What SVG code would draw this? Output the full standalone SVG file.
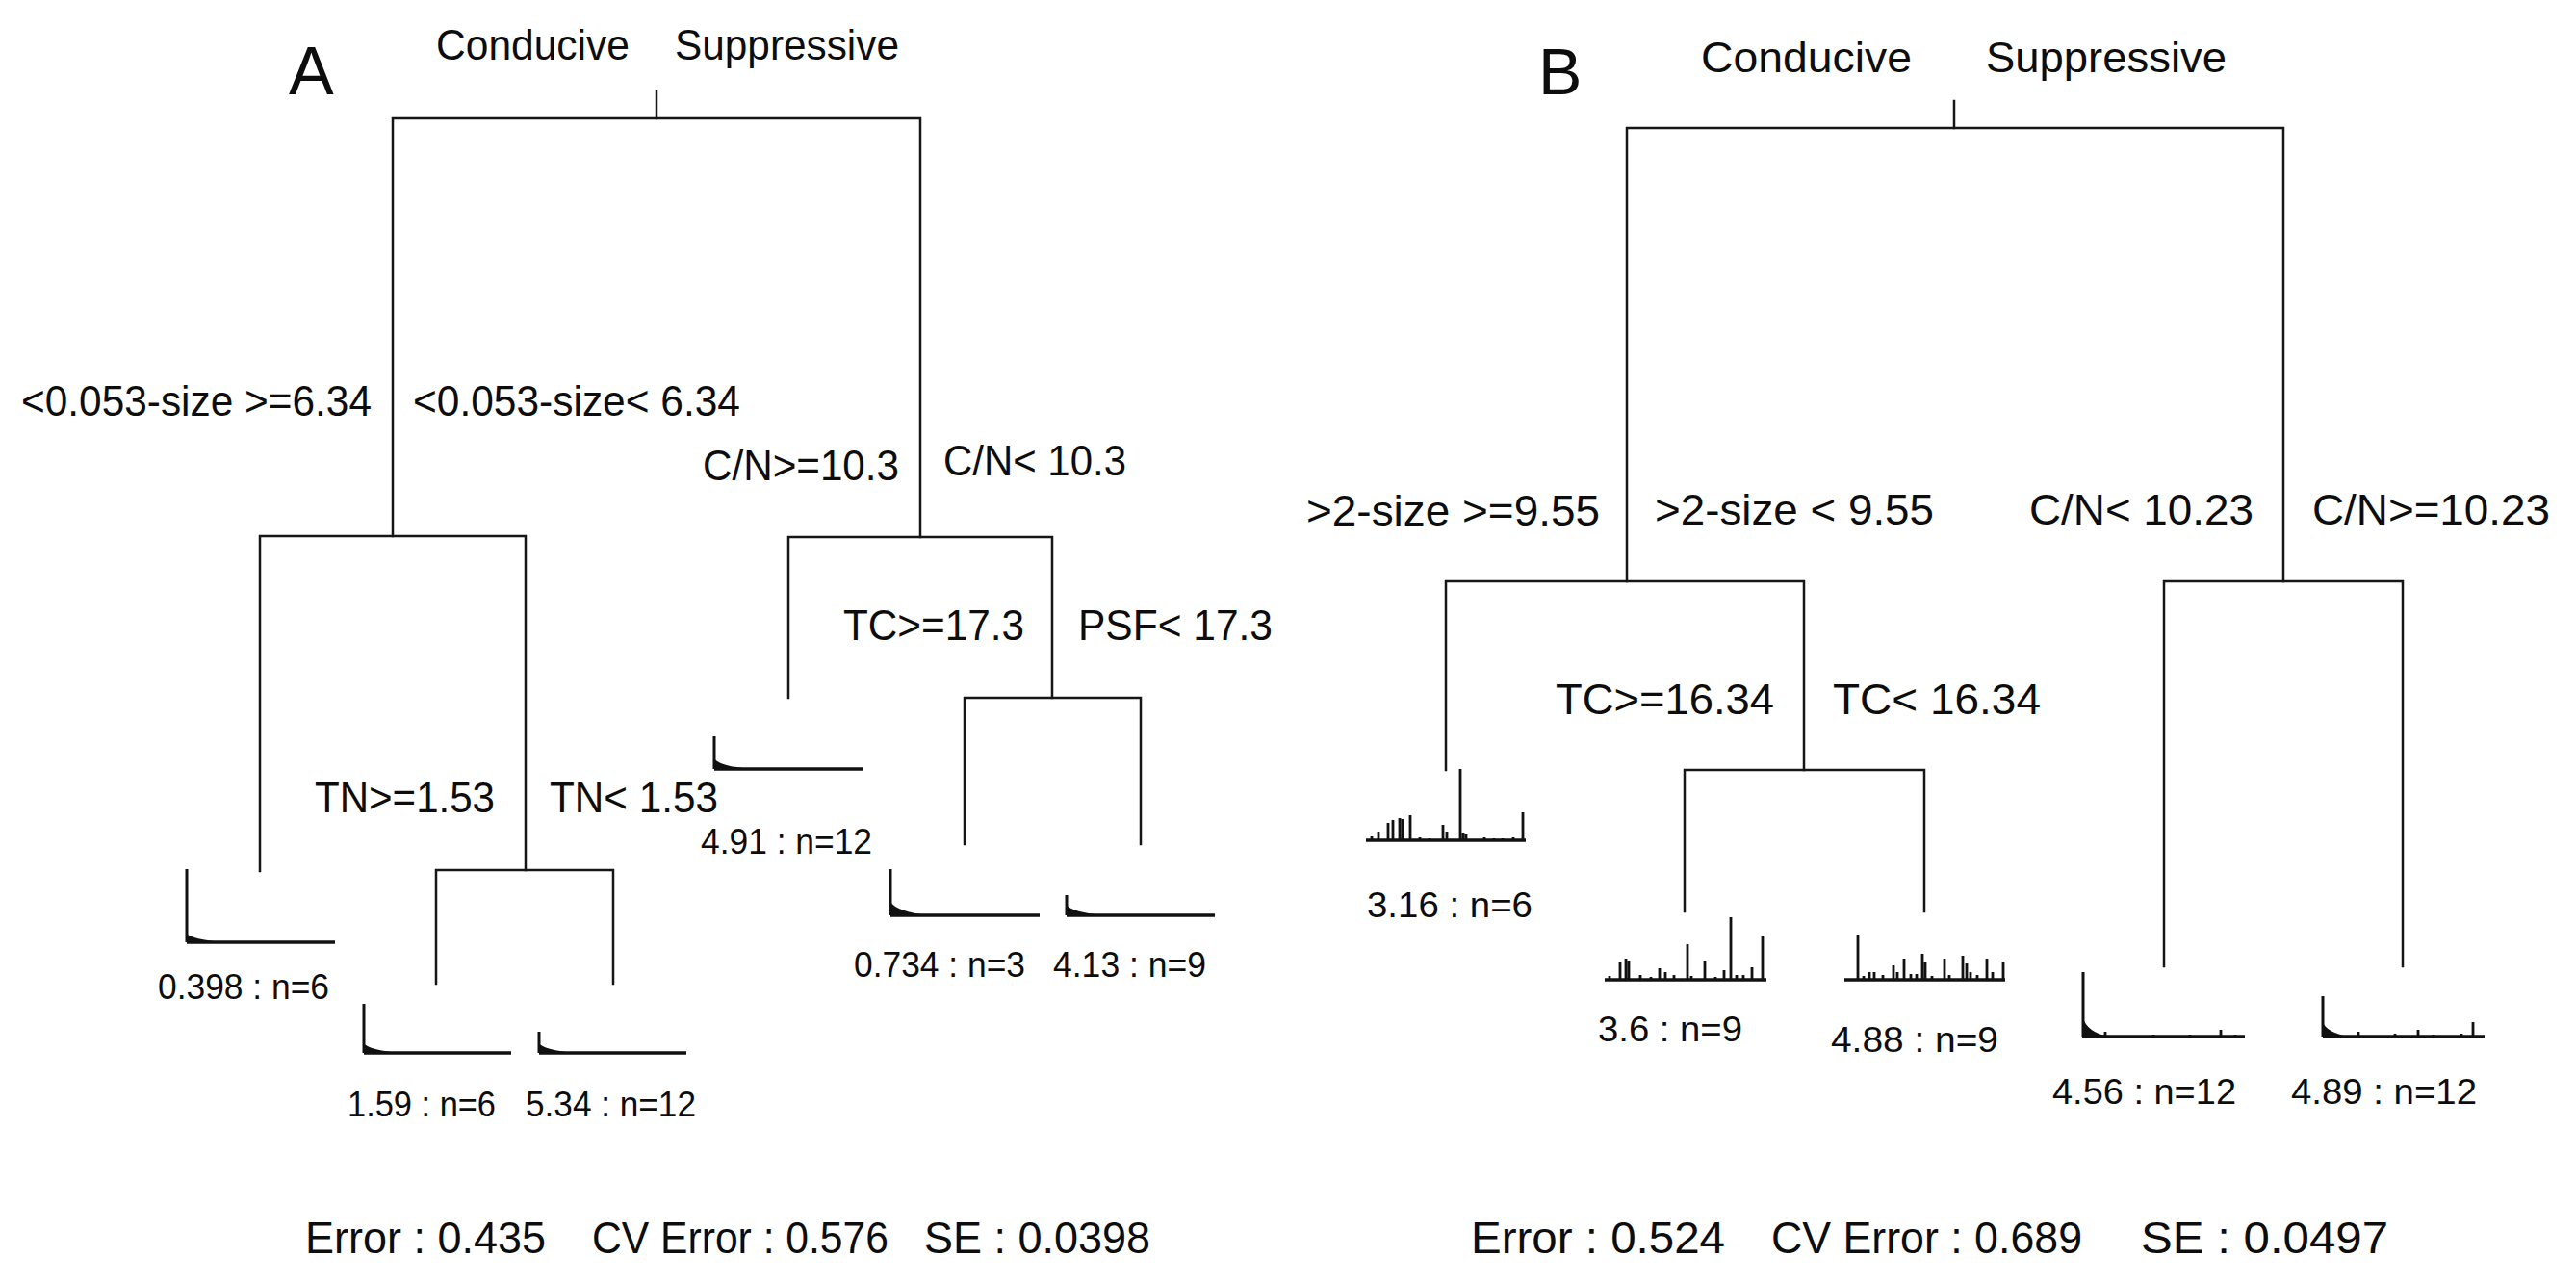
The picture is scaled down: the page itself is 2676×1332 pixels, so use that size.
<svg xmlns="http://www.w3.org/2000/svg" width="2676" height="1332" viewBox="0 0 2676 1332">
<style>
.bg{fill:#fff}
.ln{stroke:#161616;stroke-width:2.5;fill:none;stroke-linecap:square}
.t{font-family:"Liberation Sans",Arial,Helvetica,sans-serif;fill:#0d0d0d}
.big{font-size:70px}
.lbl{font-size:44px}
.leaf{font-size:37px}
.err{font-size:46px}
.hv{stroke:#111;stroke-width:3;fill:none}
.hb{stroke:#111;stroke-width:3.5;fill:none}
.hs{stroke:#111;stroke-width:2.8;fill:none}
.hf{fill:#111;stroke:none}
</style>
<rect class="bg" x="0" y="0" width="2676" height="1332"/>

<!-- ================= PANEL A ================= -->
<g id="panelA-title">
<text class="t big" x="300" y="98">A</text>
</g>
<g id="A-root">
<text class="t lbl" x="453" y="62" textLength="201" lengthAdjust="spacingAndGlyphs">Conducive</text>
<text class="t lbl" x="701" y="62" textLength="233" lengthAdjust="spacingAndGlyphs">Suppressive</text>
</g>

<g id="A-connectors">
<path class="ln" d="M682,95 V123"/>
<path class="ln" d="M408,557 V123 H956 V558"/>
<path class="ln" d="M270,905 V557 H546 V904"/>
<path class="ln" d="M453,1022 V904 H637 V1022"/>
<path class="ln" d="M819,725 V558 H1093 V725"/>
<path class="ln" d="M1002,877 V725 H1185 V877"/>
</g>

<g id="A-split-labels">
<text class="t lbl" x="22" y="432" textLength="364" lengthAdjust="spacingAndGlyphs">&lt;0.053-size &gt;=6.34</text>
<text class="t lbl" x="429" y="432" textLength="340" lengthAdjust="spacingAndGlyphs">&lt;0.053-size&lt; 6.34</text>
<text class="t lbl" x="730" y="499" textLength="204" lengthAdjust="spacingAndGlyphs">C/N&gt;=10.3</text>
<text class="t lbl" x="980" y="494" textLength="190" lengthAdjust="spacingAndGlyphs">C/N&lt; 10.3</text>
<text class="t lbl" x="327" y="844" textLength="187" lengthAdjust="spacingAndGlyphs">TN&gt;=1.53</text>
<text class="t lbl" x="571" y="844" textLength="175" lengthAdjust="spacingAndGlyphs">TN&lt; 1.53</text>
<text class="t lbl" x="876" y="665" textLength="188" lengthAdjust="spacingAndGlyphs">TC&gt;=17.3</text>
<text class="t lbl" x="1120" y="665" textLength="202" lengthAdjust="spacingAndGlyphs">PSF&lt; 17.3</text>
</g>

<g id="A-leaf-0398">
<path class="hf" d="M194,979 V970 Q199,976 232,979 Z"/>
<path class="hv" d="M194,903 V979"/>
<path class="hb" d="M194,979 H348"/>
<text class="t leaf" x="164" y="1038" textLength="178" lengthAdjust="spacingAndGlyphs">0.398 : n=6</text>
</g>
<g id="A-leaf-491">
<path class="hf" d="M742,799 V788 Q747,796 780,799 Z"/>
<path class="hv" d="M742,765 V799"/>
<path class="hb" d="M742,799 H896"/>
<text class="t leaf" x="728" y="887" textLength="178" lengthAdjust="spacingAndGlyphs">4.91 : n=12</text>
</g>
<g id="A-leaf-159">
<path class="hf" d="M378,1094 V1084 Q383,1091 416,1094 Z"/>
<path class="hv" d="M378,1043 V1094"/>
<path class="hb" d="M378,1094 H531"/>
<text class="t leaf" x="361" y="1160" textLength="154" lengthAdjust="spacingAndGlyphs">1.59 : n=6</text>
</g>
<g id="A-leaf-534">
<path class="hf" d="M560,1094 V1084 Q565,1091 598,1094 Z"/>
<path class="hv" d="M560,1072 V1094"/>
<path class="hb" d="M560,1094 H713"/>
<text class="t leaf" x="546" y="1160" textLength="177" lengthAdjust="spacingAndGlyphs">5.34 : n=12</text>
</g>
<g id="A-leaf-0734">
<path class="hf" d="M925,951 V937 Q931,947 965,951 Z"/>
<path class="hv" d="M925,903 V951"/>
<path class="hb" d="M925,951 H1080"/>
<text class="t leaf" x="887" y="1015" textLength="178" lengthAdjust="spacingAndGlyphs">0.734 : n=3</text>
</g>
<g id="A-leaf-413">
<path class="hf" d="M1108,951 V940 Q1113,948 1148,951 Z"/>
<path class="hv" d="M1108,930 V951"/>
<path class="hb" d="M1108,951 H1262"/>
<text class="t leaf" x="1094" y="1015" textLength="159" lengthAdjust="spacingAndGlyphs">4.13 : n=9</text>
</g>

<g id="A-error">
<text class="t err" x="317" y="1302" textLength="250" lengthAdjust="spacingAndGlyphs">Error : 0.435</text>
<text class="t err" x="615" y="1302" textLength="308" lengthAdjust="spacingAndGlyphs">CV Error : 0.576</text>
<text class="t err" x="960" y="1302" textLength="235" lengthAdjust="spacingAndGlyphs">SE : 0.0398</text>
</g>

<!-- ================= PANEL B ================= -->
<g id="panelB-title">
<text class="t big" x="1598" y="98" style="font-size:68px">B</text>
</g>
<g id="B-root">
<text class="t lbl" x="1767" y="75" textLength="219" lengthAdjust="spacingAndGlyphs">Conducive</text>
<text class="t lbl" x="2063" y="75" textLength="250" lengthAdjust="spacingAndGlyphs">Suppressive</text>
</g>

<g id="B-connectors">
<path class="ln" d="M2030,105 V133"/>
<path class="ln" d="M1690,604 V133 H2372 V604"/>
<path class="ln" d="M1502,800 V604 H1874 V800"/>
<path class="ln" d="M1750,947 V800 H1999 V947"/>
<path class="ln" d="M2248,1004 V604 H2496 V1004"/>
</g>

<g id="B-split-labels">
<text class="t lbl" x="1357" y="546" textLength="305" lengthAdjust="spacingAndGlyphs">&gt;2-size &gt;=9.55</text>
<text class="t lbl" x="1719" y="545" textLength="290" lengthAdjust="spacingAndGlyphs">&gt;2-size &lt; 9.55</text>
<text class="t lbl" x="2108" y="545" textLength="233" lengthAdjust="spacingAndGlyphs">C/N&lt; 10.23</text>
<text class="t lbl" x="2402" y="545" textLength="247" lengthAdjust="spacingAndGlyphs">C/N&gt;=10.23</text>
<text class="t lbl" x="1616" y="742" textLength="227" lengthAdjust="spacingAndGlyphs">TC&gt;=16.34</text>
<text class="t lbl" x="1904" y="742" textLength="216" lengthAdjust="spacingAndGlyphs">TC&lt; 16.34</text>
</g>

<g id="B-leaf-316">
<path class="hs" d="M1425,873 v-4 M1432,873 v-9 M1442,873 v-18 M1447,873 v-21 M1454,873 v-23 M1457,873 v-22 M1465,873 v-26 M1475,873 v-3 M1485,873 v-2 M1499,873 v-16 M1503,873 v-9 M1517,873 v-74 M1520,873 v-8 M1523,873 v-6 M1542,873 v-3 M1552,873 v-2 M1561,873 v-2 M1572,873 v-3 M1582,873 v-29"/>
<path class="hb" d="M1419,873 H1585"/>
<text class="t leaf" x="1420" y="953" textLength="172" lengthAdjust="spacingAndGlyphs">3.16 : n=6</text>
</g>
<g id="B-leaf-36">
<path class="hs" d="M1672,1018 v-4 M1683,1018 v-18 M1689,1018 v-22 M1692,1018 v-20 M1704,1018 v-5 M1715,1018 v-3 M1724,1018 v-12 M1730,1018 v-8 M1739,1018 v-5 M1753,1018 v-37 M1757,1018 v-4 M1771,1018 v-20 M1782,1018 v-3 M1791,1018 v-10 M1798,1018 v-65 M1804,1018 v-5 M1811,1018 v-5 M1820,1018 v-13 M1831,1018 v-45"/>
<path class="hb" d="M1667,1018 H1835"/>
<text class="t leaf" x="1660" y="1082" textLength="150" lengthAdjust="spacingAndGlyphs">3.6 : n=9</text>
</g>
<g id="B-leaf-488">
<path class="hs" d="M1930,1018 v-47 M1936,1018 v-4 M1942,1018 v-8 M1947,1018 v-8 M1956,1018 v-5 M1967,1018 v-15 M1971,1018 v-8 M1978,1018 v-22 M1985,1018 v-6 M1991,1018 v-6 M1997,1018 v-27 M2000,1018 v-18 M2007,1018 v-4 M2020,1018 v-22 M2025,1018 v-5 M2039,1018 v-25 M2043,1018 v-17 M2047,1018 v-8 M2054,1018 v-5 M2064,1018 v-22 M2070,1018 v-8 M2081,1018 v-19"/>
<path class="hb" d="M1916,1018 H2083"/>
<text class="t leaf" x="1902" y="1093" textLength="174" lengthAdjust="spacingAndGlyphs">4.88 : n=9</text>
</g>
<g id="B-leaf-456">
<path class="hf" d="M2164,1077 V1058 Q2168,1072 2190,1077 Z"/>
<path class="hv" d="M2164,1010 V1077"/>
<path class="hs" d="M2187,1077 v-5 M2237,1077 v-2 M2275,1077 v-2 M2307,1077 v-7 M2322,1077 v-2"/>
<path class="hb" d="M2163,1077 H2332"/>
<text class="t leaf" x="2132" y="1147" textLength="191" lengthAdjust="spacingAndGlyphs">4.56 : n=12</text>
</g>
<g id="B-leaf-489">
<path class="hf" d="M2413,1077 V1062 Q2417,1073 2440,1077 Z"/>
<path class="hv" d="M2413,1035 V1077"/>
<path class="hs" d="M2450,1077 v-5 M2488,1077 v-3 M2512,1077 v-7 M2528,1077 v-2 M2557,1077 v-3 M2569,1077 v-15"/>
<path class="hb" d="M2413,1077 H2581"/>
<text class="t leaf" x="2380" y="1147" textLength="193" lengthAdjust="spacingAndGlyphs">4.89 : n=12</text>
</g>

<g id="B-error">
<text class="t err" x="1528" y="1302" textLength="264" lengthAdjust="spacingAndGlyphs">Error : 0.524</text>
<text class="t err" x="1840" y="1302" textLength="323" lengthAdjust="spacingAndGlyphs">CV Error : 0.689</text>
<text class="t err" x="2224" y="1302" textLength="257" lengthAdjust="spacingAndGlyphs">SE : 0.0497</text>
</g>
</svg>
